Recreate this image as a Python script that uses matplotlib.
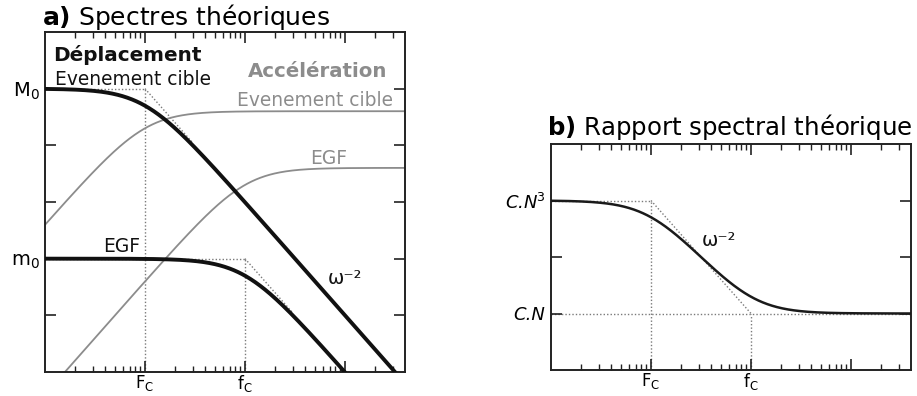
import numpy as np
import matplotlib
matplotlib.use("Agg")
import matplotlib.pyplot as plt
from matplotlib.ticker import LogLocator, NullFormatter, FixedLocator, FixedFormatter

# ---- data ----
Fc = 10.0          # corner frequency, target event
fc = 100.0         # corner frequency, EGF
M0 = 1e5           # target plateau (displacement)
m0 = 1e2           # EGF plateau (displacement)
acc_target = 4e4   # acceleration plateau, target
acc_egf = 4e3      # acceleration plateau, EGF
CN3 = 1e3          # spectral ratio low-freq plateau
CN = 1e1           # spectral ratio high-freq plateau
x_range = (1.0, 10 ** 3.6)
ya_range = (1.0, 1e6)
yb_range = (1.0, 1e4)
x_major = [10.0, 100.0, 1000.0]
x_labels = [r"F$_\mathrm{C}$", r"f$_\mathrm{C}$", ""]
ya_ticks = [10.0, 100.0, 1000.0, 1e4, 1e5]
ya_labels = ["", r"m$_0$", "", "", r"M$_0$"]
yb_ticks = [10.0, 100.0, 1000.0]
yb_labels = ["C.N", "", r"C.N$^{\mathit{3}}$"]

f = np.logspace(0, 3.6, 600)

def disp(level, corner):
    return level / (1 + (f / corner) ** 2)

def acc(level, corner):
    return level * (f / corner) ** 2 / (1 + (f / corner) ** 2)

BLACK = "#111111"
GRAY = "#8c8c8c"
DOT = "#7a7a7a"

fig = plt.figure(figsize=(9.17, 3.96), dpi=100)
axa = fig.add_axes([45 / 917, 24 / 396, 360 / 917, 340 / 396])
axb = fig.add_axes([551 / 917, 26 / 396, 360 / 917, 226 / 396])

def style(ax, yr, yt, yl, ysize):
    ax.set_xscale("log")
    ax.set_yscale("log")
    ax.set_xlim(*x_range)
    ax.set_ylim(*yr)
    ax.xaxis.set_major_locator(FixedLocator(x_major))
    ax.xaxis.set_major_formatter(FixedFormatter(x_labels))
    ax.xaxis.set_minor_locator(LogLocator(base=10, subs=np.arange(2, 10), numticks=20))
    ax.xaxis.set_minor_formatter(NullFormatter())
    ax.yaxis.set_major_locator(FixedLocator(yt))
    ax.yaxis.set_major_formatter(FixedFormatter(yl))
    ax.yaxis.set_minor_locator(FixedLocator([]))
    ax.tick_params(axis="both", which="major", direction="in", length=8, width=1.2,
                   top=True, right=True, color="#222222")
    ax.tick_params(axis="x", which="major", labelsize=12, pad=1)
    ax.tick_params(axis="y", which="major", labelsize=ysize, pad=4)
    ax.tick_params(axis="x", which="minor", direction="in", length=4, width=1.0,
                   top=True, bottom=True, color="#222222")
    for s in ax.spines.values():
        s.set_linewidth(1.4)
        s.set_color("#222222")

style(axa, ya_range, ya_ticks, ya_labels, 14)
style(axb, yb_range, yb_ticks, yb_labels, 13)
for lab in axb.get_yticklabels():
    lab.set_fontstyle("italic")

dot = dict(color=DOT, lw=1.0, ls=(0, (1, 1.5)), zorder=1)

# ---- panel a ----
axa.plot([x_range[0], Fc], [M0, M0], **dot)
axa.plot([Fc, Fc], [ya_range[0], M0], **dot)
fa = np.array([Fc, 3 * Fc])
axa.plot(fa, M0 * (fa / Fc) ** -2, **dot)
axa.plot([x_range[0], fc], [m0, m0], **dot)
axa.plot([fc, fc], [ya_range[0], m0], **dot)
fb = np.array([fc, 3 * fc])
axa.plot(fb, m0 * (fb / fc) ** -2, **dot)

axa.plot(f, acc(acc_target, Fc), color=GRAY, lw=1.3, zorder=2)
axa.plot(f, acc(acc_egf, fc), color=GRAY, lw=1.3, zorder=2)
axa.plot(f, disp(M0, Fc), color=BLACK, lw=2.8, zorder=3)
axa.plot(f, disp(m0, fc), color=BLACK, lw=2.8, zorder=3)

axa.text(0.022, 0.932, "Déplacement", transform=axa.transAxes, fontsize=14.4,
         fontweight="bold", color=BLACK, va="center", ha="left")
axa.text(0.028, 0.859, "Evenement cible", transform=axa.transAxes, fontsize=13.4,
         color=BLACK, va="center", ha="left")
axa.text(0.564, 0.885, "Accélération", transform=axa.transAxes, fontsize=14.2,
         fontweight="bold", color=GRAY, va="center", ha="left")
axa.text(0.533, 0.80, "Evenement cible", transform=axa.transAxes, fontsize=13.4,
         color=GRAY, va="center", ha="left")
axa.text(0.736, 0.629, "EGF", transform=axa.transAxes, fontsize=13.4,
         color=GRAY, va="center", ha="left")
axa.text(0.161, 0.368, "EGF", transform=axa.transAxes, fontsize=13.4,
         color=BLACK, va="center", ha="left")
axa.text(0.786, 0.276, "ω⁻²", transform=axa.transAxes, fontsize=14,
         color=BLACK, va="center", ha="left")

fig.text(42 / 917, 1 - 17 / 396, r"$\mathbf{a)}$ Spectres théoriques", fontsize=18,
         va="center", ha="left")

# ---- panel b ----
axb.plot([x_range[0], Fc], [CN3, CN3], **dot)
axb.plot([Fc, fc], [CN3, CN], **dot)
axb.plot([x_range[0], x_range[1]], [CN, CN], **dot)
axb.plot([Fc, Fc], [yb_range[0], CN3], **dot)
axb.plot([fc, fc], [yb_range[0], CN], **dot)
ratio = CN3 * (1 + (f / fc) ** 2) / (1 + (f / Fc) ** 2)
axb.plot(f, ratio, color="#1a1a1a", lw=1.8, zorder=3)
axb.text(0.42, 0.575, "ω⁻²", transform=axb.transAxes, fontsize=14,
         color=BLACK, va="center", ha="left")

fig.text(547 / 917, 1 - 127 / 396, r"$\mathbf{b)}$ Rapport spectral théorique", fontsize=17.6,
         va="center", ha="left")

fig.savefig("out.png", dpi=100)
